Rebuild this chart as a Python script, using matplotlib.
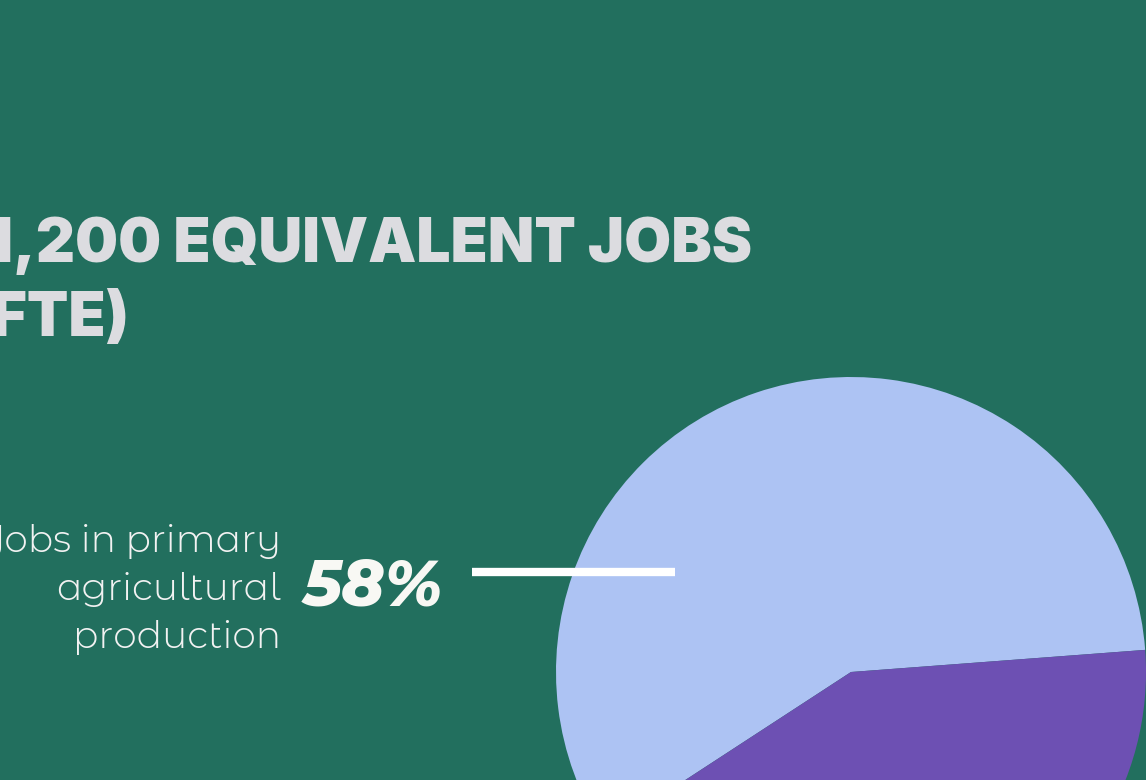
import matplotlib
matplotlib.use("Agg")
import matplotlib.pyplot as plt

labels = ["Jobs in primary agricultural production", "Other jobs"]
shares = [58, 42]
colors = ["#ADC3F3", "#6D50B3"]
title_lines = ["41,200 EQUIVALENT JOBS", "(FTE)"]
label_lines = ["Jobs in primary", "agricultural", "production"]
pct_label = "58%"

BG = "#226F5E"
W, H = 1146, 780
fig = plt.figure(figsize=(W / 100, H / 100), dpi=100, facecolor=BG)
ax = fig.add_axes([0, 0, 1, 1])
ax.set_facecolor(BG)

ax.pie(shares, colors=colors, startangle=4.3, counterclock=True,
       center=(851, H - 672), radius=295, frame=True,
       wedgeprops=dict(linewidth=0))
ax.set_xlim(0, W)
ax.set_ylim(0, H)
ax.set_aspect("equal")
ax.axis("off")

renderer = fig.canvas.get_renderer()


def fit_size(s, target_w, **kw):
    t = ax.text(0, 0, s, fontsize=100, **kw)
    w = t.get_window_extent(renderer).width
    t.remove()
    return 100 * target_w / w


MA = ["Montserrat Alternates", "DejaVu Sans"]
title_kw = dict(family=["Inter", "DejaVu Sans"], weight=900, color="#DCDCE0")
ts = fit_size("1,200 EQUIVALENT JOBS", 766, **title_kw)
ax.text(752, H - 262, title_lines[0], ha="right", va="baseline", fontsize=ts, **title_kw)
ax.text(129, H - 336, title_lines[1], ha="right", va="baseline", fontsize=ts, **title_kw)

lab_kw = dict(family=MA, weight=300, color="#F2F2F2")
ls = fit_size("agricultural", 224, **lab_kw)
for i, line in enumerate(label_lines):
    ax.text(281, H - (552 + 48 * i), line, ha="right", va="baseline", fontsize=ls, **lab_kw)

pct_kw = dict(family=MA, weight=800, style="italic", color="#F8F8F4")
ps = fit_size(pct_label, 140, **pct_kw)
ax.text(303, H - 606, pct_label, ha="left", va="baseline", fontsize=ps, **pct_kw)

ax.plot([472, 675], [H - 572, H - 572], color="white", linewidth=6, solid_capstyle="butt")

fig.savefig("out.png", dpi=100, facecolor=BG)
